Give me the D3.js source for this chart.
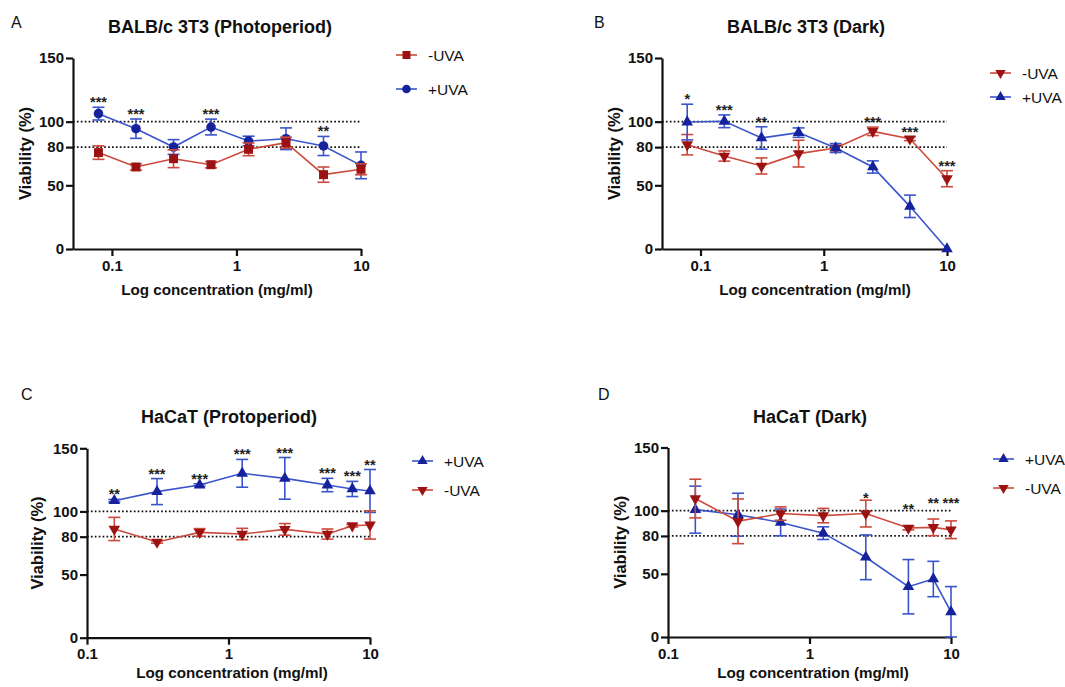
<!DOCTYPE html>
<html><head><meta charset="utf-8">
<script src="https://cdn.jsdelivr.net/npm/d3@7"></script>
<style>
body{margin:0;background:#fff;}
text{font-family:"Liberation Sans",Arial,Helvetica,sans-serif;}
</style></head>
<body><svg id="c" width="1065" height="687"></svg>
<script>
// ---------- DATA ----------
const concAB = [0.078, 0.156, 0.3125, 0.625, 1.25, 2.5, 5, 10];
const concCD = [0.156, 0.3125, 0.625, 1.25, 2.5, 5, 7.5, 10];

// Panel A: BALB/c 3T3 (Photoperiod)
const aMinusUVA = [75.7, 64.4, 70.9, 66.2, 78.3, 83.5, 58.4, 62.6];
const aMinusErr = [5.3, 2.5, 7.0, 2.5, 5.0, 4.3, 6.0, 4.3];
const aPlusUVA  = [106.3, 94.5, 80.1, 95.8, 84.8, 86.6, 80.9, 65.7];
const aPlusErr  = [5.0, 7.6, 5.8, 6.2, 3.8, 8.5, 7.5, 10.5];
const aStars    = ["***", "***", "", "***", "", "", "**", ""];

// Panel B: BALB/c 3T3 (Dark)
const bMinusUVA = [81.9, 73.0, 65.2, 74.9, 79.3, 92.4, 86.6, 55.2];
const bMinusErr = [8.0, 4.0, 6.3, 10.5, 2.0, 3.3, 1.5, 6.3];
const bPlusUVA  = [99.7, 100.3, 87.2, 91.4, 79.3, 64.4, 33.5, 0];
const bPlusErr  = [14.0, 5.0, 8.8, 3.7, 3.5, 4.8, 8.8, 0];
const bStars    = ["*", "***", "**", "", "", "***", "***", "***"];

// Panel C: HaCaT (Protoperiod)
const cPlusUVA  = [108.5, 115.7, 120.9, 130.2, 126.2, 120.9, 117.8, 116.2];
const cPlusErr  = [1.0, 10.3, 1.0, 11.0, 16.5, 5.3, 6.0, 17.0];
const cMinusUVA = [86.1, 75.8, 83.4, 82.1, 85.8, 82.1, 88.7, 89.3];
const cMinusErr = [9.2, 1.0, 3.0, 4.5, 4.6, 4.0, 1.0, 11.2];
const cStars    = ["**", "***", "***", "***", "***", "***", "***", "**"];

// Panel D: HaCaT (Dark)
const dPlusUVA  = [100.8, 96.8, 90.7, 82.2, 63.1, 39.8, 45.9, 19.9];
const dPlusErr  = [18.6, 17.0, 10.6, 5.0, 17.7, 21.5, 14.0, 20.0];
const dMinusUVA = [109.6, 91.6, 97.7, 96.1, 97.7, 86.3, 86.8, 84.9];
const dMinusErr = [15.3, 17.7, 5.3, 5.7, 10.6, 1.5, 6.6, 7.0];
const dStars    = ["", "", "", "", "*", "**", "**", "***"];
// significance label levels (Viability %) where the reference places the stars
const dStarLevel = [null, null, null, null, 112, 103, 108, 108];

const yTicks = [0, 50, 80, 100, 150];
const xTicks = [0.1, 1, 10];
const refLines = [80, 100];

// ---------- STYLE ----------
const BLUE_L = "#3a55cc", BLUE_M = "#15229c";
const RED_L = "#cc4a3c", RED_M = "#9c1212";
const svg = d3.select("#c");

function panel(cfg) {
  const g = svg.append("g");
  const x = d3.scaleLog().domain(cfg.xDomain).range([cfg.left, cfg.right]);
  const y = d3.scaleLinear().domain([0, 150]).range([cfg.bottom, cfg.top]);

  g.append("text").attr("x", cfg.letter[0]).attr("y", cfg.letter[1])
    .attr("font-size", 16).attr("fill", "#111").text(cfg.letterText);
  g.append("text").attr("x", cfg.titleX).attr("y", cfg.titleY).attr("text-anchor", "middle")
    .attr("font-size", 18).attr("font-weight", "bold").attr("fill", "#111").text(cfg.title);

  g.selectAll(".ref").data(refLines).join("line")
    .attr("x1", cfg.left).attr("x2", cfg.right)
    .attr("y1", d => y(d)).attr("y2", d => y(d))
    .attr("stroke", "#111").attr("stroke-width", 1.7).attr("stroke-dasharray", "1.7,2.2");

  const ya = g.append("g").attr("transform", `translate(${cfg.left},0)`)
    .call(d3.axisLeft(y).tickValues(yTicks).tickFormat(d3.format("d")).tickSize(7).tickSizeOuter(0));
  const xa = g.append("g").attr("transform", `translate(0,${cfg.bottom})`)
    .call(d3.axisBottom(x).tickValues(xTicks).tickFormat(d => d === 0.1 ? "0.1" : String(d)).tickSize(7).tickSizeOuter(0));
  [ya, xa].forEach(a => {
    a.select(".domain").attr("stroke", "#111").attr("stroke-width", 2.2);
    a.selectAll(".tick line").attr("stroke", "#111").attr("stroke-width", 2.2);
    a.selectAll(".tick text").attr("font-size", 15).attr("font-weight", "bold")
      .attr("fill", "#111").attr("font-family", '"Liberation Sans",Arial,sans-serif');
  });
  ya.selectAll(".tick text").attr("x", -9);
  xa.selectAll(".tick text").attr("y", 11);

  g.append("text").attr("x", cfg.xLabelX).attr("y", cfg.xLabelY).attr("text-anchor", "middle")
    .attr("font-size", 15.2).attr("font-weight", "bold").attr("fill", "#111").text("Log concentration (mg/ml)");
  g.append("text").attr("transform", `translate(${cfg.yLabelX},${(cfg.top + cfg.bottom) / 2}) rotate(-90)`)
    .attr("text-anchor", "middle").attr("font-size", 16.5).attr("font-weight", "bold").attr("fill", "#111").text("Viability (%)");

  cfg.series.forEach(s => {
    const pts = s.values.map((v, i) => ({ c: cfg.conc[i], v, e: s.err[i] }));
    g.append("path").datum(pts)
      .attr("d", d3.line().x(d => x(d.c)).y(d => y(d.v)))
      .attr("fill", "none").attr("stroke", s.line).attr("stroke-width", 1.6);
    const eb = g.append("g").attr("stroke", s.line).attr("stroke-width", 1.6);
    pts.filter(d => d.e > 0).forEach(d => {
      const hi = y(d.v + d.e), lo = y(Math.max(0, d.v - d.e)), cx = x(d.c);
      eb.append("line").attr("x1", cx).attr("x2", cx).attr("y1", hi).attr("y2", lo);
      eb.append("line").attr("x1", cx - 6).attr("x2", cx + 6).attr("y1", hi).attr("y2", hi);
      eb.append("line").attr("x1", cx - 6).attr("x2", cx + 6).attr("y1", lo).attr("y2", lo);
    });
    g.selectAll(null).data(pts).join("path")
      .attr("d", d3.symbol().type(s.sym).size(s.size))
      .attr("transform", d => `translate(${x(d.c)},${y(d.v)}) rotate(${s.rot || 0})`)
      .attr("fill", s.marker);
  });

  cfg.stars.forEach((st, i) => {
    if (!st) return;
    let top = d3.min(cfg.series, s => y(s.values[i] + s.err[i]));
    if (cfg.starLevel && cfg.starLevel[i] != null) top = y(cfg.starLevel[i]) + 7;
    g.append("text").attr("x", x(cfg.conc[i])).attr("y", top)
      .attr("text-anchor", "middle").attr("font-size", 14.5).attr("font-weight", "bold")
      .attr("fill", "#222").text(st);
  });

  cfg.legendOrder.forEach((si, k) => {
    const s = cfg.series[si];
    const ly = cfg.legend[1] + k * cfg.legendGap;
    const lx = cfg.legend[0];
    g.append("line").attr("x1", lx).attr("x2", lx + 21).attr("y1", ly).attr("y2", ly)
      .attr("stroke", s.line).attr("stroke-width", 1.6);
    g.append("path").attr("d", d3.symbol().type(s.sym).size(s.size * 0.8))
      .attr("transform", `translate(${lx + 10.5},${ly}) rotate(${s.rot || 0})`).attr("fill", s.marker);
    g.append("text").attr("x", lx + 32).attr("y", ly + 5.5).attr("font-size", 15.5)
      .attr("fill", "#111").text(s.name);
  });
}

panel({
  letterText: "A", letter: [11, 28], title: "BALB/c 3T3 (Photoperiod)", titleX: 220, titleY: 33,
  xDomain: [0.0487, 10], left: 73, right: 361, top: 58, bottom: 249,
  xLabelX: 217, xLabelY: 295, yLabelX: 31, conc: concAB, stars: aStars,
  legend: [396, 55], legendGap: 34, legendOrder: [1, 0],
  series: [
    { name: "+UVA", values: aPlusUVA, err: aPlusErr, line: BLUE_L, marker: BLUE_M, sym: d3.symbolCircle, size: 72 },
    { name: "-UVA", values: aMinusUVA, err: aMinusErr, line: RED_L, marker: RED_M, sym: d3.symbolSquare, size: 80 }
  ]
});
panel({
  letterText: "B", letter: [594, 28], title: "BALB/c 3T3 (Dark)", titleX: 806, titleY: 33,
  xDomain: [0.0487, 10], left: 662, right: 947, top: 58, bottom: 249,
  xLabelX: 815, xLabelY: 295, yLabelX: 620, conc: concAB, stars: bStars,
  legend: [990, 73], legendGap: 24, legendOrder: [0, 1],
  series: [
    { name: "-UVA", values: bMinusUVA, err: bMinusErr, line: RED_L, marker: RED_M, sym: d3.symbolTriangle, size: 58, rot: 180 },
    { name: "+UVA", values: bPlusUVA, err: bPlusErr, line: BLUE_L, marker: BLUE_M, sym: d3.symbolTriangle, size: 58 }
  ]
});
panel({
  letterText: "C", letter: [21, 400], title: "HaCaT (Protoperiod)", titleX: 229, titleY: 423,
  xDomain: [0.1, 10], left: 87, right: 370, top: 448.3, bottom: 637.7,
  xLabelX: 232, xLabelY: 678, yLabelX: 43, conc: concCD, stars: cStars,
  legend: [412, 461], legendGap: 29, legendOrder: [0, 1],
  series: [
    { name: "+UVA", values: cPlusUVA, err: cPlusErr, line: BLUE_L, marker: BLUE_M, sym: d3.symbolTriangle, size: 58 },
    { name: "-UVA", values: cMinusUVA, err: cMinusErr, line: RED_L, marker: RED_M, sym: d3.symbolTriangle, size: 58, rot: 180 }
  ]
});
panel({
  letterText: "D", letter: [598, 400], title: "HaCaT (Dark)", titleX: 810, titleY: 423,
  xDomain: [0.1, 10], left: 668, right: 951, top: 447.5, bottom: 637,
  xLabelX: 813, xLabelY: 678, yLabelX: 626, conc: concCD, stars: dStars, starLevel: dStarLevel,
  legend: [993, 459], legendGap: 29, legendOrder: [0, 1],
  series: [
    { name: "+UVA", values: dPlusUVA, err: dPlusErr, line: BLUE_L, marker: BLUE_M, sym: d3.symbolTriangle, size: 58 },
    { name: "-UVA", values: dMinusUVA, err: dMinusErr, line: RED_L, marker: RED_M, sym: d3.symbolTriangle, size: 58, rot: 180 }
  ]
});
</script>
</body></html>
